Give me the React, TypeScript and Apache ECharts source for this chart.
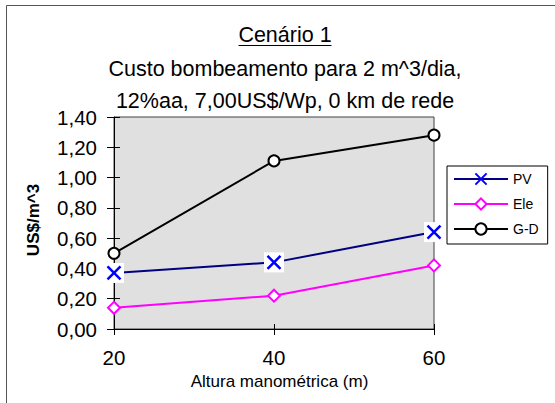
import React, { useEffect, useRef } from "react";
import * as echarts from "echarts";

const categories = ["20", "40", "60"];
const pvValues = [0.37, 0.44, 0.64];
const eleValues = [0.14, 0.22, 0.42];
const gdValues = [0.5, 1.11, 1.28];
const seriesNames = ["PV", "Ele", "G-D"];
const titleLines = ["Cenário 1", "Custo bombeamento para 2 m^3/dia,", "12%aa, 7,00US$/Wp, 0 km de rede"];
const xAxisTitle = "Altura manométrica (m)";
const yAxisTitle = "US$/m^3";

const FONT = "'Liberation Sans', Arial, sans-serif";
const X_PATH = "path://M0,0L10,10M10,0L0,10";

export default function App() {
  const ref = useRef<HTMLDivElement>(null);
  useEffect(() => {
    if (!ref.current) return;
    const chart = echarts.init(ref.current, undefined, { renderer: "svg" });
    chart.setOption({
      animation: false,
      backgroundColor: "#ffffff",
      textStyle: { fontFamily: FONT },
      grid: {
        left: 114,
        top: 117,
        width: 320,
        height: 212,
        show: true,
        backgroundColor: "#e0e0e0",
        borderColor: "#404040",
        borderWidth: 1,
      },
      legend: {
        data: seriesNames,
        orient: "vertical",
        left: 447,
        top: 166,
        padding: [6, 9, 8, 6],
        itemWidth: 54,
        itemHeight: 14,
        itemGap: 11,
        borderColor: "#000",
        borderWidth: 1,
        backgroundColor: "#fff",
        textStyle: { fontSize: 14, color: "#000", fontFamily: FONT },
      },
      xAxis: [
        {
          type: "category",
          data: categories,
          boundaryGap: false,
          axisLine: { lineStyle: { color: "#000", width: 1 } },
          axisTick: { show: true, length: 6, inside: false, lineStyle: { color: "#000" } },
          axisLabel: { fontSize: 20.5, color: "#000", margin: 18, fontFamily: FONT },
          splitLine: { show: false },
        },
        {
          type: "category",
          data: categories,
          boundaryGap: false,
          position: "bottom",
          axisLine: { show: false },
          axisTick: { show: true, length: 5, inside: true, lineStyle: { color: "#000" } },
          axisLabel: { show: false },
          splitLine: { show: false },
        },
      ],
      yAxis: [
        {
          type: "value",
          min: 0,
          max: 1.4,
          interval: 0.2,
          axisLine: { show: true, lineStyle: { color: "#000", width: 1 } },
          axisTick: { show: true, length: 7, inside: false, lineStyle: { color: "#000" } },
          axisLabel: {
            fontSize: 20.5,
            color: "#000",
            margin: 17,
            fontFamily: FONT,
            formatter: (v: number) => v.toFixed(2).replace(".", ","),
          },
          splitLine: { show: false },
        },
        {
          type: "value",
          min: 0,
          max: 1.4,
          interval: 0.2,
          position: "left",
          axisLine: { show: false },
          axisTick: { show: true, length: 6, inside: true, lineStyle: { color: "#000" } },
          axisLabel: { show: false },
          splitLine: { show: false },
        },
      ],
      series: [
        {
          name: "PV",
          type: "line",
          data: pvValues,
          z: 2,
          clip: false,
          symbol: X_PATH,
          symbolSize: 13,
          lineStyle: { color: "#000080", width: 2 },
          itemStyle: { color: "#0000ff", borderColor: "#0000ff", borderWidth: 2.5 },
        },
        {
          name: "Ele",
          type: "line",
          data: eleValues,
          z: 2,
          clip: false,
          symbol: "diamond",
          symbolSize: 12,
          lineStyle: { color: "#ff00ff", width: 2 },
          itemStyle: { color: "#ffffff", borderColor: "#ff00ff", borderWidth: 2 },
        },
        {
          name: "G-D",
          type: "line",
          data: gdValues,
          z: 2,
          clip: false,
          symbol: "circle",
          symbolSize: 11,
          lineStyle: { color: "#000000", width: 2 },
          itemStyle: { color: "#ffffff", borderColor: "#000000", borderWidth: 2 },
        },
        {
          name: "pv-bg",
          type: "line",
          data: pvValues,
          z: 3,
          clip: false,
          silent: true,
          symbol: "rect",
          symbolSize: 20,
          lineStyle: { opacity: 0, width: 0 },
          itemStyle: { color: "#ffffff", borderWidth: 0 },
        },
        {
          name: "pv-mark",
          type: "line",
          data: pvValues,
          z: 4,
          clip: false,
          silent: true,
          symbol: X_PATH,
          symbolSize: 13,
          lineStyle: { opacity: 0, width: 0 },
          itemStyle: { color: "#0000ff", borderColor: "#0000ff", borderWidth: 2.5 },
        },
      ],
      graphic: [
        {
          type: "rect",
          shape: { x: 6.5, y: 5.5, width: 700, height: 600 },
          style: { fill: "none", stroke: "#555", lineWidth: 1 },
          silent: true,
          z: -10,
        },
        {
          type: "text",
          x: 285,
          y: 35,
          style: { text: titleLines[0], fontSize: 21.5, fontFamily: FONT, fill: "#000", textAlign: "center", textVerticalAlign: "middle" },
        },
        {
          type: "line",
          shape: { x1: 238.5, y1: 45.5, x2: 331.5, y2: 45.5 },
          style: { stroke: "#000", lineWidth: 1 },
        },
        {
          type: "text",
          x: 285,
          y: 69,
          style: { text: titleLines[1], fontSize: 21.5, fontFamily: FONT, fill: "#000", textAlign: "center", textVerticalAlign: "middle" },
        },
        {
          type: "text",
          x: 285,
          y: 101,
          style: { text: titleLines[2], fontSize: 21.5, fontFamily: FONT, fill: "#000", textAlign: "center", textVerticalAlign: "middle" },
        },
        {
          type: "text",
          x: 279.5,
          y: 381,
          style: { text: xAxisTitle, fontSize: 17, fontFamily: FONT, fill: "#000", textAlign: "center", textVerticalAlign: "middle" },
        },
        {
          type: "text",
          x: 33,
          y: 220,
          rotation: Math.PI / 2,
          style: { text: yAxisTitle, fontSize: 17, fontWeight: "bold", fontFamily: FONT, fill: "#000", textAlign: "center", textVerticalAlign: "middle" },
        },
      ],
    });
    return () => chart.dispose();
  }, []);
  return <div ref={ref} style={{ position: "fixed", left: 0, top: 0, width: 555, height: 403 }} />;
}
